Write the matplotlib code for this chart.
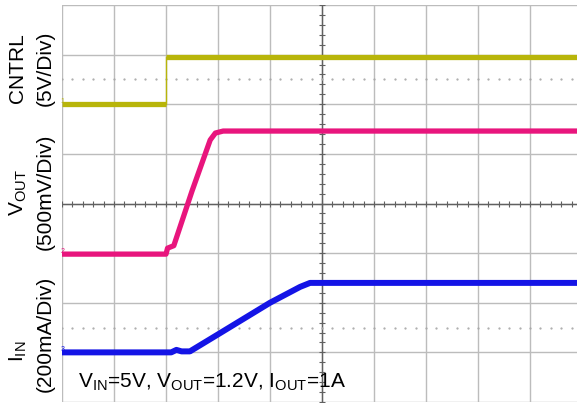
import matplotlib
matplotlib.use("Agg")
import matplotlib.pyplot as plt
import numpy as np

plt.rcParams['font.family'] = ['Liberation Sans', 'DejaVu Sans']
plt.rcParams['mathtext.fontset'] = 'custom'
plt.rcParams['mathtext.rm'] = 'Liberation Sans'
plt.rcParams['mathtext.it'] = 'Liberation Sans'

# scope traces, in screen divisions (x: 0..10, y: 0..8)
cntrl_lo_t = [0.0, 2.0]
cntrl_lo_v = [6.0, 6.0]
cntrl_hi_t = [2.0, 10.0]
cntrl_hi_v = [6.95, 6.95]

vout_t = [0.0, 2.0, 2.03, 2.15, 2.5, 2.85, 2.95, 3.1, 10.0]
vout_v = [2.98, 2.98, 3.1, 3.15, 4.25, 5.28, 5.42, 5.46, 5.46]

iin_t = [0.0, 2.1, 2.2, 2.3, 2.46, 2.98, 4.0, 4.58, 4.77, 10.0]
iin_v = [1.0, 1.0, 1.05, 1.02, 1.02, 1.35, 2.0, 2.32, 2.4, 2.4]

yellow = '#b8b50a'
magenta = '#e8157d'
blue = '#1414e6'

fig = plt.figure(figsize=(5.77, 4.05), dpi=100)
ax = fig.add_axes([62 / 577, 3 / 405, 520 / 577, 397 / 405])
ax.set_xlim(0, 10)
ax.set_ylim(0, 8)
ax.axis('off')

# grid
for gx in range(0, 11):
    ax.axvline(gx, color='#bcbcbc', lw=1.0, zorder=1)
for gy in range(0, 9):
    ax.axhline(gy, color='#bcbcbc', lw=1.0, zorder=1)
ax.axvline(5, color='#606060', lw=1.0, zorder=1)
ax.axhline(4, color='#606060', lw=1.0, zorder=1)

# minor ticks on centre lines
mt = np.arange(0, 10.01, 0.2)
ax.plot(mt, np.full(len(mt), 4.0), ls='none', marker='|', ms=5, color='#606060', mew=0.8, zorder=1)
mty = np.arange(0, 8.01, 0.2)
ax.plot(np.full(len(mty), 5.0), mty, ls='none', marker='_', ms=5, color='#606060', mew=0.8, zorder=1)

# dotted reference lines
for dy in [6.5, 1.5]:
    ax.plot(mt, np.full(len(mt), dy), ls='none', marker='.', ms=1.2, color='#a8a8a8', zorder=1)

ax.plot(cntrl_lo_t, cntrl_lo_v, color=yellow, lw=3.8, solid_capstyle='butt', zorder=3)
ax.plot(cntrl_hi_t, cntrl_hi_v, color=yellow, lw=3.8, solid_capstyle='butt', zorder=3)
ax.plot([2.0, 2.0], [6.0, 6.95], color=yellow, lw=1.0, zorder=3)
ax.plot(vout_t, vout_v, color=magenta, lw=3.8, zorder=3)
ax.plot(iin_t, iin_v, color=blue, lw=4.3, zorder=3)

# channel markers
ax.text(-0.02, 6.05, '1', color=yellow, fontsize=5, ha='left', va='center', zorder=4)
ax.text(-0.02, 3.03, '2', color=magenta, fontsize=5, ha='left', va='center', zorder=4)
ax.text(-0.02, 1.05, '3', color=blue, fontsize=5, ha='left', va='center', zorder=4)

ax.text(0.3, 0.18, r'V$_{\mathrm{IN}}$=5V, V$_{\mathrm{OUT}}$=1.2V, I$_{\mathrm{OUT}}$=1A',
        fontsize=15, ha='left', va='bottom', color='black', zorder=5)

# channel labels on the left
lab = dict(rotation=90, ha='center', va='center', fontsize=15, color='black')
fig.text(18 / 577, 1 - 68 / 405, 'CNTRL', **lab)
fig.text(45 / 577, 1 - 68 / 405, '(5V/Div)', **lab)
fig.text(18 / 577, 1 - 193 / 405, r'V$_{\mathrm{OUT}}$', **lab)
fig.text(45 / 577, 1 - 192 / 405, '(500mV/Div)', **lab)
fig.text(18 / 577, 1 - 351 / 405, r'I$_{\mathrm{IN}}$', **lab)
fig.text(45 / 577, 1 - 334 / 405, '(200mA/Div)', **lab)

fig.savefig('out.png', dpi=100)
